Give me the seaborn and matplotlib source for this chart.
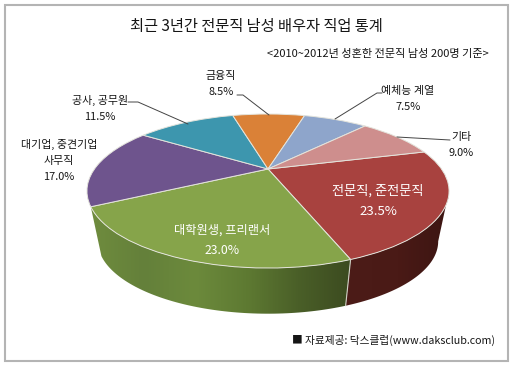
"""
Spouse occupation pie: 3D-looking pie redrawn with seaborn / matplotlib.
"""
import numpy as np
import matplotlib
matplotlib.use("Agg")
import matplotlib.pyplot as plt
from matplotlib.patches import Polygon, Rectangle
from matplotlib.path import Path
from matplotlib.transforms import Transform
import seaborn as sns

# ── Data ─────────────────────────────────────────────────
jobs = ["전문직, 준전문직", "대학원생, 프리랜서", "대기업, 중견기업\n사무직", "공사, 공무원",
        "금융직", "예체능 계열", "기타"]
shares = [23.5, 23.0, 17.0, 11.5, 8.5, 7.5, 9.0]
slice_colors = ["#A8423F", "#86A44A", "#6E548D", "#3D96AE", "#DA8137", "#8EA5CB", "#CE8E8D"]

TITLE = "최근 3년간 전문직 남성 배우자 직업 통계"
SUBTITLE = "<2010~2012년 성혼한 전문직 남성 200명 기준>"
SOURCE = "■ 자료제공: 닥스클럽(www.daksclub.com)"

sns.set_theme(style="white")
plt.rcParams["font.family"] = ["Noto Sans CJK KR", "DejaVu Sans"]

# ── Perspective of the pie, in pixels ────────────────────
CX, CY = 268, 169
A, B, K = 173.5, 70.7, 0.2857
SHRINK, VANISH_Y = 0.94, 1030
SILHOUETTE = -16.6  # angle where the rim turns away from the viewer


def project(xy):
    xy = np.asarray(xy, dtype=float)
    w = 1 + K * xy[:, 1]
    return np.column_stack([CX + A * xy[:, 0] / w, CY - B * xy[:, 1] / w])


def drop(xy):
    # lower rim of the pie, points run to a vanishing point under the chart
    return np.column_stack([CX + SHRINK * (xy[:, 0] - CX),
                            VANISH_Y + SHRINK * (xy[:, 1] - VANISH_Y)])


class Tilt(Transform):
    input_dims = output_dims = 2

    def transform_non_affine(self, values):
        return project(values)

    def transform_path_non_affine(self, path):
        return Path(project(path.vertices), path.codes)


def rim(t1, t2, n=80):
    t = np.radians(np.linspace(t1, t2, n))
    return project(np.column_stack([np.cos(t), np.sin(t)]))


def wall(t1, t2, shades):
    # side wall of a slice: horizontal gradient clipped to the rim outline
    top = rim(t1, t2)
    bottom = drop(top)
    outline = np.vstack([top, bottom[::-1]])
    grad = np.array(sns.blend_palette(shades, 200))[None, :, :]
    x0, x1 = outline[:, 0].min(), outline[:, 0].max()
    y0, y1 = outline[:, 1].min(), outline[:, 1].max()
    im = ax.imshow(grad, extent=(x0, x1, y1, y0), aspect="auto", zorder=3)
    im.set_clip_path(Polygon(outline, transform=ax.transData))


fig, ax = plt.subplots(figsize=(5.13, 3.71), dpi=100)
fig.subplots_adjust(0, 0, 1, 1)

wedges, _ = ax.pie(shares, colors=slice_colors, startangle=15, counterclock=False,
                   wedgeprops={"edgecolor": "#e4e4dc", "linewidth": 0.7, "zorder": 5})
for w in wedges:
    w.set_transform(Tilt() + ax.transData)

# frame
ax.add_patch(Rectangle((4.5, 4.5), 503, 356, fill=False, ec="#b4b4b4", lw=1.5, zorder=1))

# ── Side walls, only red and green are in front ──────────
t_split = wedges[1].theta2
wall(t_split, SILHOUETTE, ["#4c1c18", "#4a1a16", "#3c1512"])
wall(wedges[1].theta1, t_split, ["#6f8c3e", "#64803a", "#6c8a3c", "#5e7a32", "#4a5f28", "#3c4b20"])

# light seam where the two walls meet
seam = rim(t_split, t_split, 1)
ax.plot([seam[0, 0], drop(seam)[0, 0]], [seam[0, 1], drop(seam)[0, 1]], color="#cfcfc4", lw=0.8, zorder=4)

# ── Text ─────────────────────────────────────────────────
DARK = "#151515"
ax.text(256, 26, TITLE, ha="center", va="center", fontsize=11, color=DARK)
ax.text(378, 54, SUBTITLE, ha="center", va="center", fontsize=8, color=DARK)
ax.text(394, 340, SOURCE, ha="center", va="center", fontsize=7.7, color=DARK)

label_pos = [(378, 201), (222, 240), (59, 160), (100, 108), (221, 84), (408, 99), (461, 145)]
label_size = [9.5, 8.8, 7.9, 7.9, 7.9, 7.9, 7.9]
for i, (job, share, (x, y)) in enumerate(zip(jobs, shares, label_pos)):
    inside = i < 2
    ax.text(x, y, f"{job}\n{share:.1f}%", ha="center", va="center",
            fontsize=label_size[i], linespacing=1.75,
            color="white" if inside else DARK, zorder=8)

# leader lines
leaders = [([128, 138, 188], [102, 102, 124]),
           ([237, 243, 269], [95, 95, 115]),
           ([382, 377, 335], [93, 93, 119]),
           ([450, 397], [140, 137])]
for xs, ys in leaders:
    ax.plot(xs, ys, color="#444444", lw=0.7, zorder=7)

ax.set_xlim(0, 513)
ax.set_ylim(371, 0)
ax.set_aspect("auto")
ax.axis("off")

plt.savefig("out.png", dpi=100)
plt.close()
